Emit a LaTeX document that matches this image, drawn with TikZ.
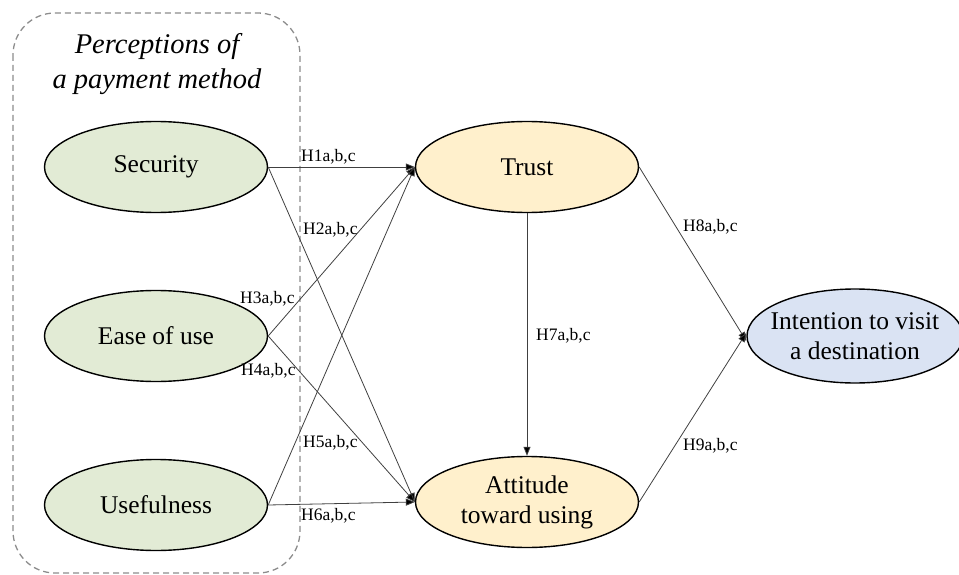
\documentclass[tikz,border=0pt]{standalone}
\usepackage{fontspec}
\setmainfont{Liberation Serif}
\usetikzlibrary{shapes.geometric,arrows.meta}
\definecolor{greenfill}{HTML}{E2EBD5}
\definecolor{yellowfill}{HTML}{FFF0CC}
\definecolor{bluefill}{HTML}{DAE3F3}
\definecolor{boxgray}{HTML}{8C8C8C}
\tikzset{
  construct/.style={ellipse, draw=black, line width=1.4pt, minimum width=223pt, minimum height=91pt, inner sep=0pt, font=\fontsize{25.5}{30}\selectfont, align=center},
  green/.style={construct, fill=greenfill},
  yellow/.style={construct, fill=yellowfill},
  blue/.style={construct, fill=bluefill},
  link/.style={draw=black!75, line width=0.8pt, -{Triangle[length=9pt,width=7pt,fill=black]}},
  hyp/.style={anchor=west, inner sep=0pt, font=\fontsize{17.5}{20}\selectfont},
}
\begin{document}
\begin{tikzpicture}[x=1pt,y=-1pt]
\useasboundingbox (0,0) rectangle (959,575);
\draw[boxgray, dashed, line width=1.3pt, dash pattern=on 6pt off 4pt, rounded corners=42pt] (13,13) rectangle (300,573);
\node[align=center, font=\itshape\fontsize{28.5}{35}\selectfont] (title) at (157,64) {Perceptions of\\a payment method};
\node[green] (sec) at (156,167) {Security};
\node[green] (ease) at (156,336) {Ease of use};
\node[green] (use) at (156,505) {Usefulness};
\node[yellow] (trust) at (527,167) {Trust};
\node[yellow] (att) at (527,502) {Attitude\\toward using};
\node[blue, minimum width=216pt, minimum height=94pt, inner xsep=-12pt] (int) at (855,336) {Intention to visit\\a destination};
\draw[link] (sec.east) -- (trust.west);
\draw[link] (sec.east) -- (att.west);
\draw[link] (ease.east) -- (trust.west);
\draw[link] (ease.east) -- (att.west);
\draw[link] (use.east) -- (trust.west);
\draw[link] (use.east) -- (att.west);
\draw[link] (trust.south) -- (att.north);
\draw[link] (trust.east) -- ([yshift=-5pt]int.west);
\draw[link] (att.east) -- ([yshift=3pt]int.west);
\node[hyp] (h1) at (301,157) {H1a,b,c};
\node[hyp] (h2) at (303,230) {H2a,b,c};
\node[hyp] (h3) at (240,299) {H3a,b,c};
\node[hyp] (h4) at (241,371) {H4a,b,c};
\node[hyp] (h5) at (303,443) {H5a,b,c};
\node[hyp] (h6) at (301,516) {H6a,b,c};
\node[hyp] (h7) at (536,336) {H7a,b,c};
\node[hyp] (h8) at (683,227) {H8a,b,c};
\node[hyp] (h9) at (683,446) {H9a,b,c};
\end{tikzpicture}
\end{document}
